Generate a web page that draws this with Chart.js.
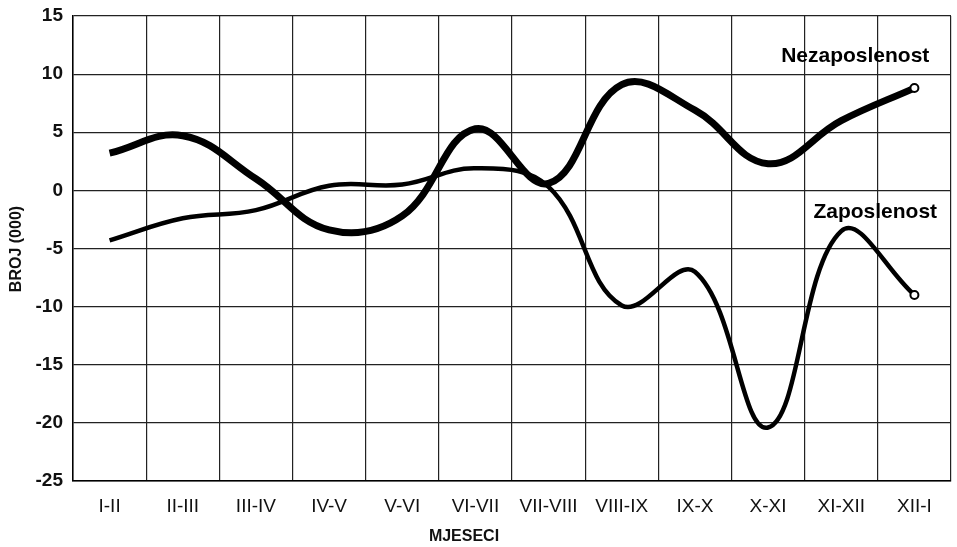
<!DOCTYPE html>
<html>
<head>
    <title>Nezaposlenost i zaposlenost</title>
    <script src="https://cdn.jsdelivr.net/npm/chart.js"></script>
    <style>
        html, body { margin: 0; padding: 0; background: #fff; }
        #wrap { width: 957px; height: 547px; }
    </style>
</head>
<body>
    <div id="wrap"><canvas id="broj-chart"></canvas></div>

    <script>
        // podaci ocitani sa slike (u tisucama)
        const months = ['I-II', 'II-III', 'III-IV', 'IV-V', 'V-VI', 'VI-VII', 'VII-VIII', 'VIII-IX', 'IX-X', 'X-XI', 'XI-XII', 'XII-I'];
        const nezaposlenost = [3.2, 4.7, 1.0, -3.4, -2.2, 5.3, 0.6, 9.1, 6.9, 2.3, 6.0, 8.8];
        const zaposlenost = [-4.3, -2.4, -1.7, 0.4, 0.5, 1.9, 0.3, -9.9, -7.0, -20.4, -3.5, -9.0];
        const yTicks = [15, 10, 5, 0, -5, -10, -15, -20, -25];
        const seriesNames = ['Nezaposlenost', 'Zaposlenost'];
        const xTitle = 'MJESECI';
        const yTitle = 'BROJ (000)';

        const FONT = "'Liberation Sans', Arial, sans-serif";

        // samo zadnja tocka ima kruzic
        const lastOnly = months.map((m, i) => i === months.length - 1 ? 4 : 0);

        // natpisi uz krivulje i naslovi osi
        const extraText = {
            id: 'extraText',
            afterDraw(chart) {
                const ctx = chart.ctx;
                const x = chart.scales.x;
                const y = chart.scales.y;
                ctx.save();
                ctx.fillStyle = '#000';
                ctx.textAlign = 'center';
                ctx.textBaseline = 'middle';
                ctx.font = 'bold 21px ' + FONT;
                ctx.fillText(seriesNames[0], x.getPixelForValue(10) + 14, y.getPixelForValue(11.5));
                ctx.fillText(seriesNames[1], x.getPixelForValue(10) + 34, y.getPixelForValue(-1.9));

                ctx.fillStyle = '#111';
                ctx.font = 'bold 16px ' + FONT;
                ctx.fillText(xTitle, 464, 537);

                ctx.translate(17, 249);
                ctx.rotate(-Math.PI / 2);
                ctx.font = 'bold 16px ' + FONT;
                ctx.fillText(yTitle, 0, 0);
                ctx.restore();
            }
        };

        const ctx = document.getElementById('broj-chart').getContext('2d');
        new Chart(ctx, {
            type: 'line',
            data: {
                labels: months,
                datasets: [{
                    label: seriesNames[0],
                    data: nezaposlenost,
                    borderColor: '#000',
                    borderWidth: 7,
                    tension: 0.4,
                    pointRadius: lastOnly,
                    pointBackgroundColor: '#fff',
                    pointBorderColor: '#000',
                    pointBorderWidth: 2,
                    fill: false
                }, {
                    label: seriesNames[1],
                    data: zaposlenost,
                    borderColor: '#000',
                    borderWidth: 4.5,
                    tension: 0.4,
                    pointRadius: lastOnly,
                    pointBackgroundColor: '#fff',
                    pointBorderColor: '#000',
                    pointBorderWidth: 2,
                    fill: false
                }]
            },
            options: {
                responsive: true,
                maintainAspectRatio: false,
                animation: false,
                layout: { padding: { top: 16, right: 4 } },
                plugins: {
                    legend: { display: false },
                    tooltip: { enabled: false }
                },
                scales: {
                    x: {
                        offset: true,
                        grid: { offset: true, color: '#222', lineWidth: 1.2, drawTicks: false },
                        border: { color: '#000', width: 1.5 },
                        ticks: { color: '#111', font: { family: FONT, size: 19 }, padding: 14, maxRotation: 0, autoSkip: false },
                        afterFit: s => { s.height = 66; s.paddingLeft = 0; s.paddingRight = 0; }
                    },
                    y: {
                        min: -25,
                        max: 15,
                        afterBuildTicks: s => { s.ticks = yTicks.map(v => ({ value: v })); },
                        grid: { color: '#222', lineWidth: 1.2, drawTicks: false },
                        border: { color: '#000', width: 1.5 },
                        ticks: { color: '#111', font: { family: FONT, size: 19, weight: 'bold' }, padding: 10 },
                        afterFit: s => { s.width = 73; s.paddingTop = 0; s.paddingBottom = 0; }
                    }
                }
            },
            plugins: [extraText]
        });
    </script>
</body>
</html>
